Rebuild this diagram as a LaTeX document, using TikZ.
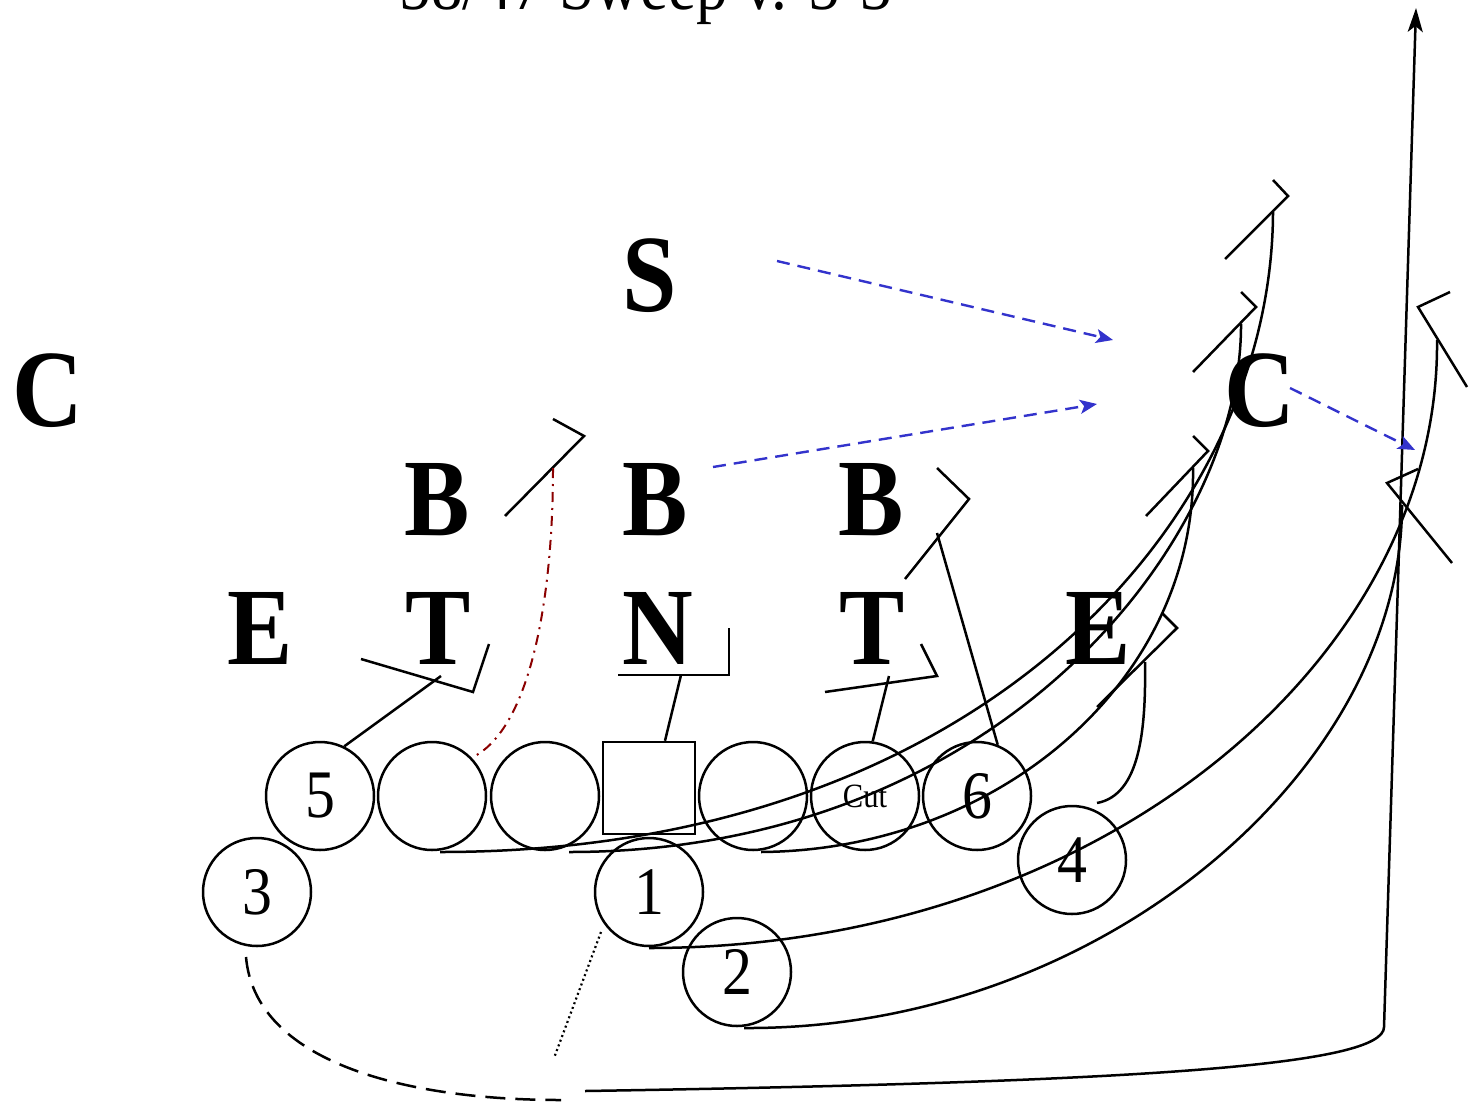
\documentclass[tikz,border=0pt]{standalone}
\usepackage{fontspec}
\setmainfont{Liberation Serif}
\usetikzlibrary{arrows.meta}
\definecolor{playblue}{RGB}{51,51,204}
\definecolor{playred}{RGB}{139,0,0}
\newcommand\sqz[2]{\scalebox{#1}[1]{#2}}
\begin{document}
\begin{tikzpicture}[x=0.5pt,y=-0.5pt,
  defl/.style={inner sep=0pt, font=\bfseries\fontsize{55}{55}\selectfont},
  man/.style={circle, draw, line width=1.25pt, minimum size=54pt, inner sep=0pt, font=\fontsize{34}{34}\selectfont},
  ctrbox/.style={rectangle, draw, line width=1.25pt, minimum size=46pt, inner sep=0pt},
  blk/.style={line width=1.25pt, line join=miter},
  route/.style={line width=1.25pt},
  bluedash/.style={playblue, line width=1.2pt, dash pattern=on 6.5pt off 4pt, -{Stealth[length=8.5pt,width=7pt,inset=2pt]}},
  reddash/.style={playred, line width=1pt, dash pattern=on 5pt off 3pt on 1pt off 3pt},
]
\useasboundingbox (0,0) rectangle (1470,1107);
\clip (0,0) rectangle (1470,1107);

% title
\node[anchor=base, inner sep=0pt, font=\fontsize{35.5}{35.5}\selectfont] (title) at (646,10) {\sqz{.89}{58/47 Sweep v. 5-3}};

% defense letters
\node[defl] (cL) at (48,391) {\sqz{.89}{C}};
\node[defl] (sS) at (650,276) {\sqz{.89}{S}};
\node[defl] (b1) at (437,500) {\sqz{.89}{B}};
\node[defl] (b2) at (655,500) {\sqz{.89}{B}};
\node[defl] (b3) at (871,500) {\sqz{.89}{B}};
\node[defl] (e1) at (260,628) {\sqz{.89}{E}};
\node[defl] (t1) at (438,628) {\sqz{.89}{T}};
\node[defl] (n1) at (658,628) {\sqz{.89}{N}};
\node[defl] (t2) at (872,628) {\sqz{.89}{T}};
\node[defl] (e2) at (1098,628) {\sqz{.89}{E}};
\node[defl] (cR) at (1260,391) {\sqz{.89}{C}};

% offense
\node[man] (p5) at (320,796) {\sqz{.88}{5}};
\node[man] (g2) at (432,796) {};
\node[man] (g3) at (545,796) {};
\node[ctrbox] (ctr) at (649,788) {};
\node[man] (g4) at (753,796) {};
\node[man, font=\fontsize{17}{17}\selectfont] (cut) at (865,796) {\sqz{.9}{Cut}};
\node[man] (p6) at (977,796) {\sqz{.88}{6}};
\node[man] (p3) at (257,892) {\sqz{.88}{3}};
\node[man] (p1) at (649,892) {\sqz{.88}{1}};
\node[man] (p2) at (737,972) {\sqz{.88}{2}};
\node[man] (p4) at (1072,860) {\sqz{.88}{4}};

% block end points
\coordinate (kT1) at (441,676);
\coordinate (kN) at (681,675);
\coordinate (kT2) at (889,676);
\coordinate (kB3) at (937,533);
\coordinate (kB1) at (553,468);
\coordinate (kTop) at (1273,212);
\coordinate (kMid) at (1241,324);
\coordinate (kH) at (1193,468);
\coordinate (kE) at (1145,662);
\coordinate (kR) at (1437,340);
\coordinate (kX) at (1402,505);
\coordinate (sA) at (440,852);
\coordinate (sB) at (569,852);
\coordinate (sC) at (761,852);
\coordinate (sD) at (649,948);
\coordinate (sE) at (744,1028);
\coordinate (s4) at (1097,803);
\coordinate (s3) at (246,957);
\coordinate (d3) at (561,1100);
\coordinate (runS) at (585,1091);
\coordinate (corner) at (1384,1027);
\coordinate (goal) at (1416,8);
\coordinate (dotS) at (601,932);
\coordinate (dotE) at (554,1058);
\coordinate (a1s) at (777,261);
\coordinate (a1e) at (1113,340);
\coordinate (a2s) at (713,467);
\coordinate (a2e) at (1097,404);
\coordinate (a3s) at (1290,388);
\coordinate (a3e) at (1415,450);

% blocks
\draw[blk] (505,516) -- (584,436) -- (553,419);
\draw[blk] (361,659) -- (473,692) -- (489,644);
\draw[blk] (618,675) -- (729,675) -- (729,628);
\draw[blk] (825,692) -- (937,676) -- (921,644);
\draw[blk] (905,579) -- (969,499) -- (937,468);
\draw[blk] (1162,613) -- (1177,628) -- (1097,707);
\draw[blk] (1193,436) -- (1208,451) -- (1146,516);
\draw[blk] (1241,292) -- (1256,307) -- (1193,372);
\draw[blk] (1273,180) -- (1288,196) -- (1225,259);
\draw[blk] (1450,292) -- (1418,307) -- (1467,387);
\draw[blk] (1418,469) -- (1387,483) -- (1452,563);

% straight block connectors
\draw[route] (p5.64) -- (kT1);
\draw[route] ([xshift=8pt]ctr.north) -- (kN);
\draw[route] (cut.82) -- (kT2);
\draw[route] (p6.68) -- (kB3);

% pulling / kick-out routes
\draw[route] (sA) .. controls (980,852) and (1272,520) .. (kTop);
\draw[route] (sB) .. controls (1000,852) and (1242,540) .. (kMid);
\draw[route] (sC) .. controls (1000,850) and (1196,680) .. (kH);
\draw[route] (sD) .. controls (1100,948) and (1440,660) .. (kR);
\draw[route] (sE) .. controls (1100,1030) and (1402,770) .. (kX);
\draw[route] (s4) .. controls (1140,795) and (1146,730) .. (kE);

% red dash-dot
\draw[reddash] (kB1) .. controls (553,600) and (530,730) .. (g2.44);

% ball carrier
\draw[line width=1.25pt, dash pattern=on 10pt off 5pt] (s3) .. controls (255,1060) and (400,1100) .. (d3);
\draw[route, -{Stealth[length=12pt,width=7.5pt,inset=3pt]}] (runS) .. controls (1150,1082) and (1384,1065) .. (corner) -- (goal);

% dotted
\draw[line width=1.1pt, dash pattern=on 1pt off 1.5pt] (dotS) -- (dotE);

% blue reads
\draw[bluedash] (a1s) -- (a1e);
\draw[bluedash] (a2s) -- (a2e);
\draw[bluedash] (a3s) -- (a3e);
\end{tikzpicture}
\end{document}
